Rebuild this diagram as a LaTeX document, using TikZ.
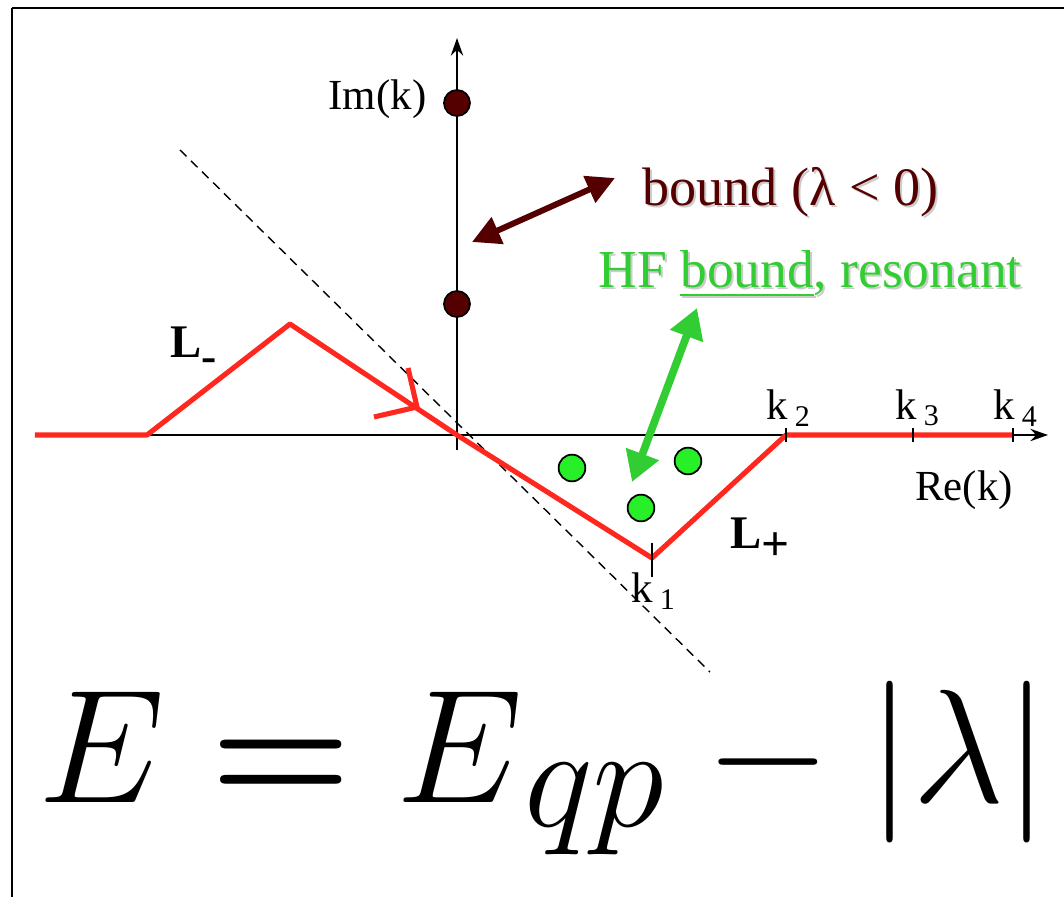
\RequirePackage{fix-cm}
\documentclass[tikz,border=0pt]{standalone}
\usepackage{amsmath}
\usepackage[no-math]{fontspec}
\setmainfont{Liberation Serif}
\usetikzlibrary{arrows.meta}
\definecolor{boundred}{RGB}{85,0,0}
\definecolor{hfgreen}{RGB}{50,205,50}
\definecolor{dotgreen}{RGB}{40,240,40}
\definecolor{pathred}{RGB}{255,40,30}
\tikzset{
  axis/.style={line width=.55pt, -{Stealth[length=5pt,width=3.5pt]}},
  contour/.style={pathred, line width=1.45pt},
  tick/.style={line width=.45pt},
  pole/.style={draw=black, line width=.5pt},
  bigtext/.style={anchor=base west, inner sep=0pt, font=\fontsize{15.4}{17}\selectfont},
  shade/.style={bigtext, text=gray!40},
  lbl/.style={font=\fontsize{13.3}{15}\selectfont\bfseries},
}
\begin{document}
\begin{tikzpicture}[line join=round, font=\fontsize{12.2}{14}\selectfont]
\useasboundingbox (-4.57,-4.62) rectangle (6.07,4.35);
\path
(0,0) coordinate (O)
(-4.22,0) coordinate (P0)
(-3.10,0) coordinate (P1)
(-1.67,1.11) coordinate (P2)
(1.95,-1.23) coordinate (K1)
(3.29,0) coordinate (K2)
(4.56,0) coordinate (K3)
(5.56,0) coordinate (K4)
(0,3.32) coordinate (B1)
(0,1.31) coordinate (B2)
(1.15,-0.33) coordinate (G1)
(2.31,-0.26) coordinate (G2)
(1.84,-0.73) coordinate (G3);
% frame
\draw[line width=.85pt] (-4.45,4.27) -- (6.07,4.27);
\draw[line width=.6pt] (-4.45,4.27) -- (-4.45,-4.62);
% axes
\draw[axis] (P1) -- (5.91,0) coordinate (Xend);
\draw[axis] (0,-0.15) coordinate (Ybeg) -- (0,3.97) coordinate (Yend);
\node[anchor=east, inner sep=0pt] (imk) at (-0.30,3.36) {Im(k)};
\node (rek) at (5.07,-0.55) {Re(k)};
\draw[dash pattern=on 2.6pt off 1.8pt, line width=.4pt] (-2.77,2.85) coordinate (D1) -- (2.53,-2.37) coordinate (D2);
% contour L- and L+
\draw[contour] (P0) -- (P1) -- (P2) -- (O) -- (K1) -- (K2) -- (K4);
\draw[contour, line join=miter] (-0.49,0.67) coordinate (M1) -- (-0.40,0.28) coordinate (M0) -- (-0.83,0.18) coordinate (M2);
\foreach \k in {K2,K3,K4} \draw[tick] ([yshift=-2pt]\k) -- ([yshift=2pt]\k);
\draw[tick] ([yshift=4.3pt]K1) -- ([yshift=-5.4pt]K1);
\node (k1) at (1.97,-1.56) {k\,\textsubscript{1}};
\foreach \k/\x in {2/3.32,3/4.61,4/5.59} \node (k\k) at (\x,0.27) {k\,\textsubscript{\k}};
\node[lbl] (lminus) at (-2.63,0.86) {L\raisebox{-4pt}{\fontsize{13}{13}\selectfont -}};
\node[lbl] (lplus) at (3.03,-1.04) {L\raisebox{-3.5pt}{\fontsize{14}{14}\selectfont +}};
% poles
\foreach \b in {B1,B2} \filldraw[pole, fill=boundred] (\b) circle (3.7pt);
\foreach \g in {G1,G2,G3} \filldraw[pole, fill=dotgreen] (\g) circle (3.8pt);
% labels and arrows
\node[shade] (bnds) at (1.87,2.28) {bound (λ < 0)};
\node[bigtext, text=boundred] (bnd) at (1.85,2.30) {bound (λ < 0)};
\node[shade, font=\fontsize{15.2}{17}\selectfont] (hfs) at (1.43,1.46) {HF \underline{bound}, resonant};
\node[bigtext, text=hfgreen, font=\fontsize{15.2}{17}\selectfont] (hf) at (1.41,1.48) {HF \underline{bound}, resonant};
\draw[boundred, line width=1.7pt, {Triangle[length=8pt,width=8pt]}-{Triangle[length=8pt,width=8pt]}] (0.15,1.93) coordinate (A1) -- (1.58,2.57) coordinate (A2);
\draw[hfgreen, line width=2.2pt, {Triangle[length=8.5pt,width=9.5pt]}-{Triangle[length=8.5pt,width=9.5pt]}] (1.75,-0.47) coordinate (H1) -- (2.40,1.27) coordinate (H2);
% energy
\node[anchor=base west, inner sep=0pt, font=\fontsize{46}{50}\selectfont] (eq) at (-4.19,-3.67)
  {$E \boldsymbol{=} E_{\kern3pt\mbox{\fontsize{41.5}{42}\selectfont$qp$}\kern1pt} - |\lambda|$};
\end{tikzpicture}
\end{document}
